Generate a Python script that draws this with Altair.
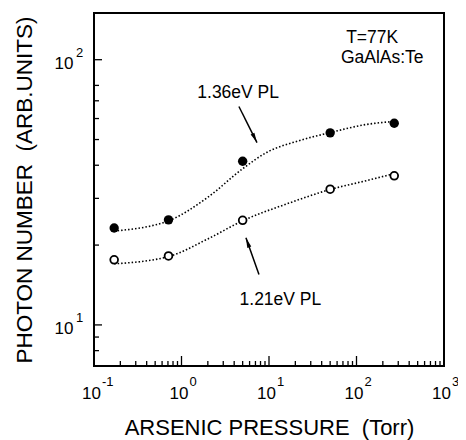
import math
import altair as alt
import pandas as pd

# ---------------- data ----------------
pressure = [0.17, 0.71, 5.0, 50.0, 270.0]
pl_136 = [23.2, 24.9, 41.4, 53.0, 57.6]   # filled circles, 1.36eV PL
pl_121 = [17.6, 18.2, 24.8, 32.5, 36.5]   # open circles, 1.21eV PL

# dotted guide curves
fit136_x = [0.17, 0.71, 2.0, 5.0, 9.4, 22.0, 50.0, 130.0, 270.0]
fit136_y = [22.6, 24.7, 30.3, 38.8, 44.7, 49.5, 53.1, 57.0, 58.5]
fit121_x = [0.17, 0.71, 2.0, 5.0, 16.0, 50.0, 130.0, 270.0]
fit121_y = [17.0, 18.1, 21.1, 24.7, 28.6, 32.4, 35.0, 37.2]

# annotations
ann_text = ["T=77K", "GaAlAs:Te", "1.36eV PL", "1.21eV PL"]
ann_x = [151.0, 197.0, 4.44, 13.5]
ann_y = [116.0, 96.8, 72.0, 11.9]

# arrows (start -> head)
arr_x1 = [4.53, 7.68]
arr_y1 = [66.6, 15.5]
arr_x2 = [7.29, 5.45]
arr_y2 = [48.7, 21.3]

# axis ticks / labels
x_major = [0.1, 1, 10, 100, 1000]
x_exp = ["-1", "0", "1", "2", "3"]
x_decades = [0.1, 1, 10, 100]
minor_mult = [2, 3, 4, 5, 6, 7, 8, 9]
y_major = [10, 100]
y_exp = ["1", "2"]
y_minor = [8, 9, 20, 30, 40, 50, 60, 70, 80]

# ---------------- layout ----------------
W, H = 350, 353
XD = [0.1, 1000]
YD = [7, 150]
FONT = "Liberation Sans"
xs = alt.Scale(type="log", domain=XD, nice=False)
ys = alt.Scale(type="log", domain=YD, nice=False)

x_minor = [d * m for d in x_decades for m in minor_mult]

# arrow head angles from the pixel geometry
kx = W / math.log10(XD[1] / XD[0])
ky = H / math.log10(YD[1] / YD[0])
angles = []
for a, b, c, d in zip(arr_x1, arr_y1, arr_x2, arr_y2):
    dx = (math.log10(c) - math.log10(a)) * kx
    dy = -(math.log10(d) - math.log10(b)) * ky
    angles.append(math.degrees(math.atan2(dx, -dy)) % 360)

pts = pd.DataFrame({"p": pressure * 2, "v": pl_136 + pl_121,
                    "s": ["136"] * 5 + ["121"] * 5})
fits = pd.DataFrame({"p": fit136_x + fit121_x, "v": fit136_y + fit121_y,
                     "s": ["136"] * len(fit136_x) + ["121"] * len(fit121_x)})
ann = pd.DataFrame({"t": ann_text, "x": ann_x, "y": ann_y})
arr = pd.DataFrame({"x1": arr_x1, "y1": arr_y1, "x2": arr_x2, "y2": arr_y2, "a": angles})
xt = pd.DataFrame({"x": x_major, "e": x_exp})
xm = pd.DataFrame({"x": x_minor})
yt = pd.DataFrame({"y": y_major, "e": y_exp})
ym = pd.DataFrame({"y": y_minor})

xaxis = alt.Axis(values=x_major, labelExpr="'10'", ticks=False, tickSize=0, domain=False,
                 grid=False, labelFont=FONT, labelFontSize=17, labelColor="black",
                 labelBaseline="alphabetic", labelPadding=32, labelOffset=-3,
                 labelFlush=False, labelOverlap=False, labelBound=False,
                 title="ARSENIC PRESSURE \u00a0(Torr)", titleFont=FONT, titleFontSize=22,
                 titleFontWeight="normal", titleColor="black", titleX=W / 2, titleY=68,
                 titleBaseline="alphabetic", titleAlign="center")
yaxis = alt.Axis(values=y_major, labelExpr="'10'", ticks=False, tickSize=0, domain=False,
                 grid=False, labelFont=FONT, labelFontSize=17, labelColor="black",
                 labelBaseline="alphabetic", labelAlign="right", labelPadding=21,
                 labelOffset=9, labelFlush=False, labelOverlap=False, labelBound=False,
                 title="PHOTON NUMBER \u00a0(ARB.UNITS)", titleFont=FONT, titleFontSize=22.5,
                 titleFontWeight="normal", titleColor="black", titleX=-63, titleY=H / 2,
                 titleAngle=270, titleBaseline="alphabetic", titleAlign="center")

base_x = alt.X("p:Q", scale=xs, axis=xaxis)
base_y = alt.Y("v:Q", scale=ys, axis=yaxis)

curves = alt.Chart(fits).mark_line(interpolate="monotone", color="black", strokeWidth=1.6,
                                   strokeDash=[1.5, 2.0]).encode(x=base_x, y=base_y, detail="s:N")

filled = alt.Chart(pts).transform_filter(alt.datum.s == "136").mark_point(
    filled=True, color="black", size=88, opacity=1, shape="circle").encode(x="p:Q", y="v:Q")
openc = alt.Chart(pts).transform_filter(alt.datum.s == "121").mark_point(
    filled=False, color="black", fill="white", fillOpacity=1, strokeWidth=1.8, size=60,
    opacity=1, shape="circle").encode(x="p:Q", y="v:Q")

ann_layer = alt.Chart(ann).mark_text(font=FONT, fontSize=17.5, color="black",
                                     align="center", baseline="alphabetic").encode(
    x="x:Q", y="y:Q", text="t:N")

arrow_lines = alt.Chart(arr).mark_rule(color="black", strokeWidth=1.5).encode(
    x="x1:Q", y="y1:Q", x2="x2:Q", y2="y2:Q")
arrow_heads = alt.Chart(arr).mark_point(
    shape="M0,0L0.42,2L-0.42,2Z", filled=True, color="black", size=100, opacity=1).encode(
    x="x2:Q", y="y2:Q", angle=alt.Angle("a:Q", scale=None))

x_major_ticks = alt.Chart(xt).mark_rule(color="black", strokeWidth=1.3).encode(
    x="x:Q", y=alt.value(H), y2=alt.value(H - 10))
x_minor_ticks = alt.Chart(xm).mark_rule(color="black", strokeWidth=1.3).encode(
    x="x:Q", y=alt.value(H), y2=alt.value(H - 5))
y_major_ticks = alt.Chart(yt).mark_rule(color="black", strokeWidth=1.3).encode(
    y="y:Q", x=alt.value(0), x2=alt.value(8))
y_minor_ticks = alt.Chart(ym).mark_rule(color="black", strokeWidth=1.3).encode(
    y="y:Q", x=alt.value(0), x2=alt.value(5))

x_exps = alt.Chart(xt).mark_text(font=FONT, fontSize=13, color="black", align="left",
                                 baseline="alphabetic", dx=8).encode(
    x="x:Q", y=alt.value(H + 19.5), text="e:N")
y_exps = alt.Chart(yt).mark_text(font=FONT, fontSize=13, color="black", align="left",
                                 baseline="alphabetic", dy=-3).encode(
    y="y:Q", x=alt.value(-18), text="e:N")

chart = alt.layer(
    curves, filled, openc, ann_layer, arrow_lines, arrow_heads,
    x_major_ticks, x_minor_ticks, y_major_ticks, y_minor_ticks, x_exps, y_exps
).resolve_scale(x="shared", y="shared").properties(
    width=W, height=H,
    padding={"left": 86, "top": 5, "right": 14, "bottom": 80},
    autosize=alt.AutoSizeParams(type="none"),
    background="white",
).configure_view(stroke="black", strokeWidth=2)

chart.save("out.html", embed_options={"renderer": "svg", "actions": False})
